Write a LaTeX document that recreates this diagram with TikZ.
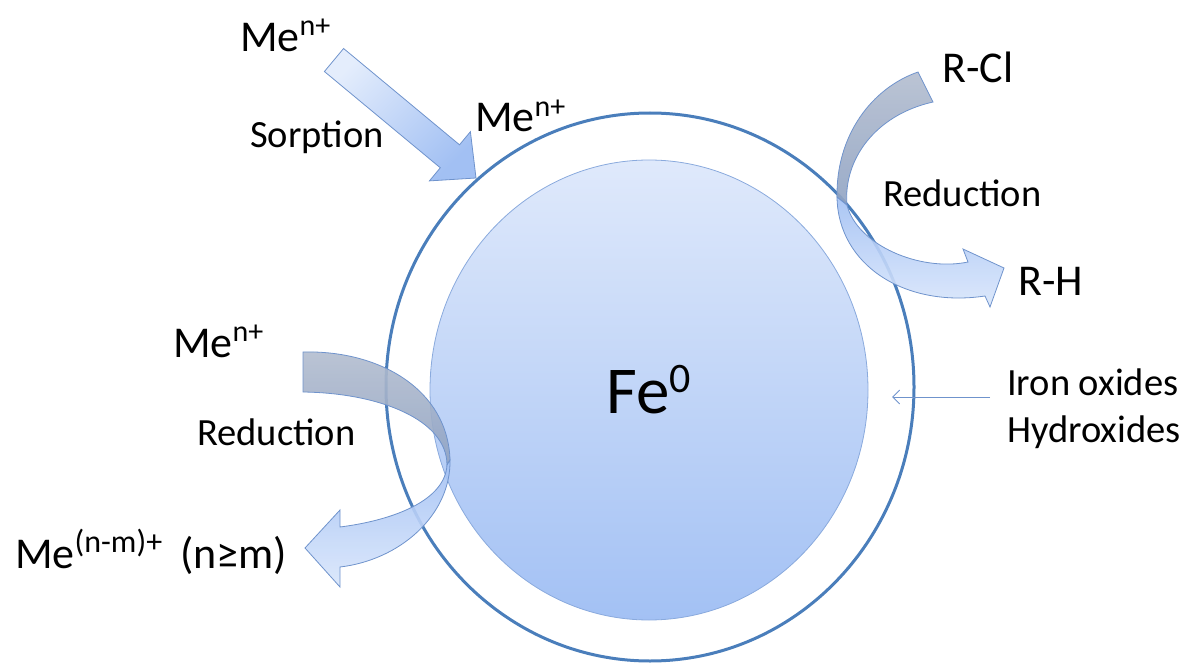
\documentclass[tikz,border=0pt]{standalone}
\usepackage{fontspec}
\setmainfont{Carlito}
\usetikzlibrary{arrows.meta}
\definecolor{ring}{HTML}{4A7EBB}
\definecolor{coreTop}{HTML}{DFE9FB}
\definecolor{coreBot}{HTML}{A3C1F4}
\definecolor{coreEdge}{HTML}{8AAADD}
\definecolor{arrEdge}{HTML}{6F93CC}
\definecolor{arrLight}{HTML}{E4EDFC}
\definecolor{arrBlue}{HTML}{A2C0F3}
\definecolor{arrGrayA}{HTML}{B3BDCF}
\definecolor{arrGrayB}{HTML}{8FA2C2}
\definecolor{bandLightB}{HTML}{D9E6FB}
\newcommand{\spc}[2]{\raisebox{16pt}{\fontsize{30}{30}\selectfont #1}#2}
\begin{document}
\begin{tikzpicture}[x=1pt,y=-1pt,
  species/.style={inner sep=0pt,anchor=base west,font=\fontsize{44}{44}\selectfont},
  lbl/.style={inner sep=0pt,anchor=base west,font=\fontsize{38.5}{38.5}\selectfont},
  bandgray/.style={draw=arrEdge,line width=0.8pt,top color=arrGrayA,bottom color=arrGrayB,fill opacity=0.9},
  bandblue/.style={draw=arrEdge,line width=0.8pt,top color=arrBlue,bottom color=bandLightB,fill opacity=0.9},
  pointer/.style={draw=arrEdge,line width=0.9pt,-{Straight Barb[length=7pt,width=14pt]}}]
\useasboundingbox (0,0) rectangle (1192,666);
% particle
\draw[ring,line width=3pt] (650,387) ellipse [x radius=264, y radius=274];
\shade[top color=coreTop,bottom color=coreBot,draw=coreEdge,line width=0.8pt] (649,390) ellipse [x radius=219, y radius=230];
\node[inner sep=0pt,anchor=base west,font=\fontsize{67}{67}\selectfont] (fe) at (606,413) {Fe\raisebox{21pt}{\fontsize{42}{42}\selectfont 0}};
% sorption arrow
\shade[draw=arrEdge,line width=0.8pt,top color=arrLight,bottom color=arrBlue,shading angle=45]
  (343.6,48.5) -- (459.5,144.8) -- (470.4,131.7) -- (476,178) -- (429.4,180.9) -- (440.3,167.8) -- (324.4,71.5) -- cycle;
% right curved arrow (R-Cl -> R-H)
\shade[bandgray] (918,72) .. controls (872,88) and (836,135) .. (837,197) -- (847,205) .. controls (843,160) and (875,115) .. (933,102) -- cycle;
\shade[bandblue] (837,197) .. controls (838,265) and (905,308) .. (985,296) -- (990,307) -- (1004,268) -- (963,249) -- (968,262) .. controls (920,272) and (857,245) .. (847,205) -- cycle;
% left curved arrow (Me -> Me(n-m))
\shade[bandgray] (303,352) .. controls (380,350) and (448,390) .. (450,460) -- (447,465) .. controls (447,420) and (380,393) .. (303,392) -- cycle;
\shade[bandblue] (450,460) .. controls (451,515) and (400,560) .. (340,567) -- (340,587) -- (305,548) -- (340,510) -- (340,527) .. controls (395,520) and (445,500) .. (447,465) -- cycle;
% labels
\node[species] (men1) at (240,52) {Me\spc{n+}{}};
\node[lbl] (sorp) at (250,148) {Sorption};
\node[species] (men2) at (475,132) {Me\spc{n+}{}};
\node[species] (rcl) at (942,83) {R-Cl};
\node[lbl] (red1) at (883,207) {Reduction};
\node[species] (rh) at (1018,295) {R-H};
\node[species] (men3) at (173,357) {Me\spc{n+}{}};
\node[lbl] (red2) at (197,445) {Reduction};
\node[species] (menm) at (15,568) {Me\raisebox{16pt}{\fontsize{32}{32}\selectfont (n-m)+}\hspace{8pt} (n≥m)};
\node[lbl] (iron) at (1007,395) {Iron oxides};
\node[lbl] (hydro) at (1007,442) {Hydroxides};
% pointer to oxide layer
\coordinate (pstart) at (990,397);
\coordinate (layer) at (892,397);
\draw[pointer] (pstart) -- (layer);
\end{tikzpicture}
\end{document}
